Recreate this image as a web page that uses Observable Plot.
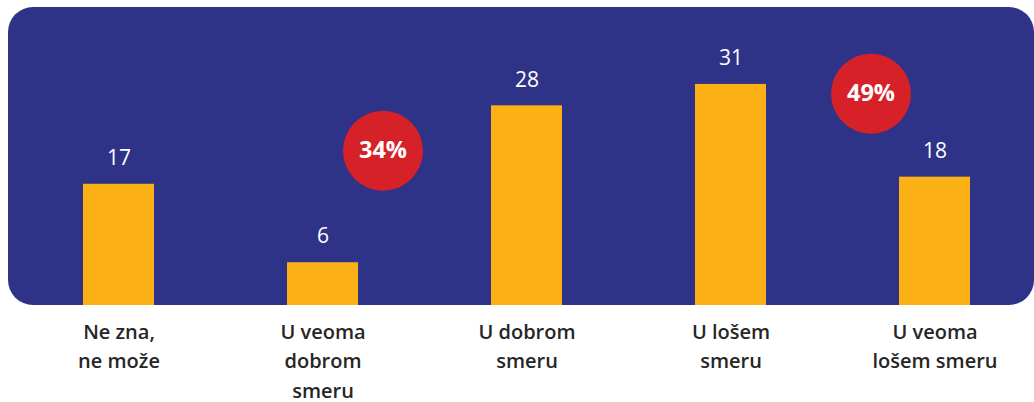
<!DOCTYPE html>
<html>
<head>
<meta charset="utf-8">
<script src="https://cdn.jsdelivr.net/npm/d3@7"></script>
<script src="https://cdn.jsdelivr.net/npm/@observablehq/plot@0.6"></script>
<style>
  html, body { margin: 0; padding: 0; background: #ffffff; }
  #chart svg { display: block; }
</style>
</head>
<body>
<div id="chart"></div>
<script>
const categories = ["Ne zna,\nne može", "U veoma\ndobrom\nsmeru", "U dobrom\nsmeru", "U lošem\nsmeru", "U veoma\nlošem smeru"];
const values = [17, 6, 28, 31, 18];
const badgeLabels = ["34%", "49%"];
const badgeAnchors = [categories[1], categories[3]];
const badgeLevels = [21.7, 29.7];

const bars = categories.map((c, i) => ({category: c, value: values[i]}));

const W = 1034, H = 402;
const badgeOffsets = [60, 140];
const FONT = "'Open Sans', 'Noto Sans', sans-serif";

const chart = Plot.plot({
  width: W,
  height: H,
  marginLeft: 82,
  marginRight: 63,
  marginTop: 8,
  marginBottom: 97,
  style: {background: "transparent", overflow: "visible"},
  x: {domain: categories, paddingInner: 0.653, paddingOuter: 0, axis: null},
  y: {domain: [0, 41.65], axis: null},
  marks: [
    Plot.barY(bars, {x: "category", y: "value", fill: "#FBB116"}),
    Plot.text(bars, {x: "category", y: "value", text: d => String(d.value), dy: -26,
      fill: "#ffffff", fontSize: 21, fontFamily: FONT, fontWeight: 400}),
    ...badgeLabels.map((lab, i) => Plot.dot([{c: badgeAnchors[i], v: badgeLevels[i]}],
      {x: "c", y: "v", r: 40, fill: "#D62128", dx: badgeOffsets[i]})),
    ...badgeLabels.map((lab, i) => Plot.text([{c: badgeAnchors[i], v: badgeLevels[i], t: lab}],
      {x: "c", y: "v", text: "t", dx: badgeOffsets[i], fill: "#ffffff", fontSize: 23.5,
       fontWeight: 700, fontFamily: FONT})),
    Plot.axisX({tickSize: 0, tickPadding: 13, fontSize: 20, lineHeight: 1.46, lineAnchor: "top",
      fill: "#262626", fontWeight: 600, fontFamily: FONT, label: null})
  ]
});

// rounded dark-blue panel behind the plot
const svg = d3.select(chart);
svg.insert("rect", ":first-child")
  .attr("x", 8).attr("y", 7).attr("width", W - 8).attr("height", 305 - 7)
  .attr("rx", 25).attr("ry", 25).attr("fill", "#2E3387");

document.getElementById("chart").appendChild(chart);
</script>
</body>
</html>
